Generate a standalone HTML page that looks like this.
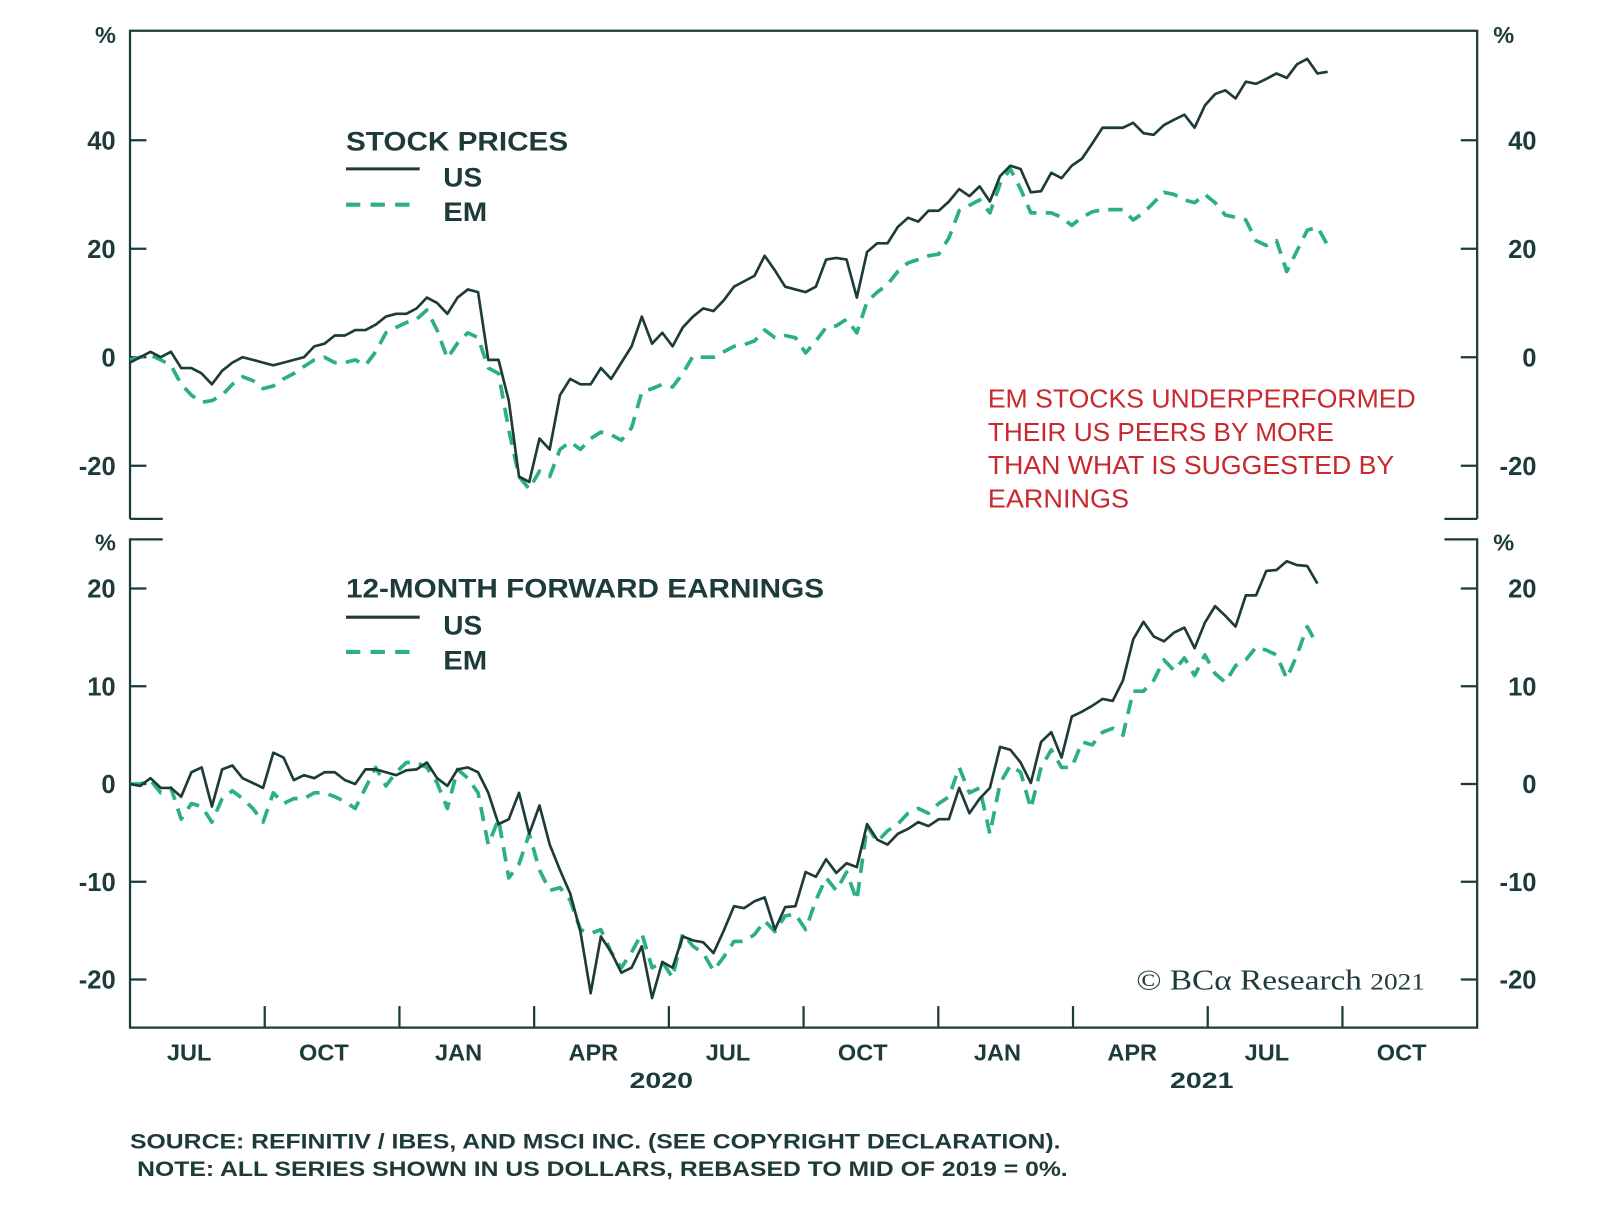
<!DOCTYPE html>
<html><head><meta charset="utf-8"><style>
html,body{margin:0;padding:0;background:#fff;}
svg{display:block;}
text{font-family:"Liberation Sans",Arial,sans-serif;font-weight:bold;fill:#1d3b3a;}
</style></head><body>
<svg id="chart" width="1600" height="1219" viewBox="0 0 1563 1191" preserveAspectRatio="none" xmlns="http://www.w3.org/2000/svg">
<g id="frame" stroke="#1d3b3a" stroke-width="2.2" fill="none">
<path d="M127 507 L127 30 L1443 30 L1443 507"/>
<path d="M127 507 L159 507 M1443 507 L1411 507"/>
<path d="M159 527 L127 527 L127 1004 L1443 1004 L1443 527 L1411 527"/>
</g>
<g id="axes"></g>
<g id="series"></g>
<text x="103" y="42" font-size="23" text-anchor="middle">%</text>
<text x="1469" y="42" font-size="23" text-anchor="middle">%</text>
<text x="103" y="538" font-size="23" text-anchor="middle">%</text>
<text x="1469" y="538" font-size="23" text-anchor="middle">%</text>
<g>
<text x="338" y="147" font-size="26" textLength="217" lengthAdjust="spacingAndGlyphs">STOCK PRICES</text>
<line x1="338" y1="165" x2="410" y2="165" stroke="#1d3b3a" stroke-width="3"/>
<text x="433" y="182" font-size="26" textLength="38" lengthAdjust="spacingAndGlyphs">US</text>
<line x1="338" y1="200" x2="410" y2="200" stroke="#2bb07f" stroke-width="4" stroke-dasharray="14 10"/>
<text x="433" y="216" font-size="26" textLength="43" lengthAdjust="spacingAndGlyphs">EM</text>
</g>
<g>
<text x="338" y="584" font-size="26" textLength="467" lengthAdjust="spacingAndGlyphs">12-MONTH FORWARD EARNINGS</text>
<line x1="338" y1="603" x2="410" y2="603" stroke="#1d3b3a" stroke-width="3"/>
<text x="433" y="620" font-size="26" textLength="38" lengthAdjust="spacingAndGlyphs">US</text>
<line x1="338" y1="637" x2="410" y2="637" stroke="#2bb07f" stroke-width="4" stroke-dasharray="14 10"/>
<text x="433" y="654" font-size="26" textLength="43" lengthAdjust="spacingAndGlyphs">EM</text>
</g>
<g font-size="25">
<text x="965" y="398" textLength="418" lengthAdjust="spacingAndGlyphs" style="fill:#c8282e;font-weight:normal">EM STOCKS UNDERPERFORMED</text>
<text x="965" y="431" textLength="338" lengthAdjust="spacingAndGlyphs" style="fill:#c8282e;font-weight:normal">THEIR US PEERS BY MORE</text>
<text x="965" y="463" textLength="397" lengthAdjust="spacingAndGlyphs" style="fill:#c8282e;font-weight:normal">THAN WHAT IS SUGGESTED BY</text>
<text x="965" y="496" textLength="138" lengthAdjust="spacingAndGlyphs" style="fill:#c8282e;font-weight:normal">EARNINGS</text>
</g>
<text x="1110" y="967" font-size="28" textLength="282" lengthAdjust="spacingAndGlyphs" style="font-family:'Liberation Serif',serif;font-weight:normal">© BCα Research <tspan font-size="23">2021</tspan></text>
<text x="615" y="1063" font-size="22" textLength="62" lengthAdjust="spacingAndGlyphs">2020</text>
<text x="1143" y="1063" font-size="22" textLength="62" lengthAdjust="spacingAndGlyphs">2021</text>
<text x="127" y="1122" font-size="21" textLength="909" lengthAdjust="spacingAndGlyphs">SOURCE: REFINITIV / IBES, AND MSCI INC. (SEE COPYRIGHT DECLARATION).</text>
<text x="134" y="1149" font-size="21" textLength="909" lengthAdjust="spacingAndGlyphs">NOTE: ALL SERIES SHOWN IN US DOLLARS, REBASED TO MID OF 2019 = 0%.</text>
</svg>
<script>
const topUS=[-1,0,1,0,1,-2,-2,-3,-5,-2.5,-1,0,-0.5,-1,-1.5,-1,-0.5,0,2,2.5,4,4,5,5,6,7.5,8,8,9,11,10,8,11,12.5,12,-0.5,-0.5,-8,
-22,-23,-15,-17,-7,-4,-5,-5,-2,-4,-1,2,7.5,2.5,4.5,2,5.5,7.5,9,8.5,10.5,13,14,15,18.7,16,13,12.5,12,13,18,18.3,18,11,19.4,21,21,24,25.7,25,27,27,28.7,31,29.7,31.5,28.7,33.4,35.3,34.7,30.4,30.6,34,33,35.3,36.6,39.4,42.3,42.3,42.3,43.2,41.3,41,42.8,43.8,44.7,42.3,46.4,48.5,49.2,47.7,50.8,50.4,51.3,52.3,51.5,54,55,52.3,52.6];
const topEM=[-0.5,0,0.4,-0.5,-1.5,-5,-7,-8.3,-8,-7,-5,-3.6,-4.3,-5.8,-5.3,-4,-3,-1.7,-0.5,0,-1,-1,-0.5,-1.5,1,4.5,5.5,6.4,7,8.7,5,-0.2,2.6,4.5,3.6,-2,-3,-13.4,
-22,-24.3,-21,-22,-17,-15.6,-17,-15,-13.8,-14.3,-15.3,-13,-6.4,-5.8,-5,-5.5,-3,0.2,0,0,1,2,2.3,3,5,3.6,4,3.6,0.8,3,5.5,5.8,7,4.5,10.2,12,13.4,15.8,17.4,18,18.7,19,22,27,28,29,26.6,32,34.7,31,26.6,26.6,26.6,25.8,24.3,25.8,26.8,27.2,27.2,27.2,25.3,26.6,28.5,30.4,30,29,28.5,30,28.5,26.2,25.8,25.3,21.5,20.6,21.5,15.8,19.6,23.4,24,20.6];
const botUS=[0,-0.2,0.6,-0.4,-0.4,-1.3,1.2,1.7,-2.3,1.5,1.9,0.6,0.1,-0.4,3.2,2.7,0.4,0.9,0.6,1.2,1.2,0.4,0,1.5,1.5,1.2,0.9,1.4,1.5,2.2,0.6,-0.2,1.5,1.7,1.2,-0.9,-4.1,-3.6,
-0.9,-5.1,-2.2,-6.2,-8.8,-11.2,-15.1,-21.4,-15.6,-17.2,-19.3,-18.8,-16.6,-21.9,-18.2,-18.8,-15.6,-16,-16.2,-17.3,-15,-12.5,-12.7,-12,-11.6,-14.9,-12.6,-12.5,-9,-9.5,-7.7,-9.1,-8.1,-8.5,-4.1,-5.7,-6.2,-5.1,-4.6,-3.9,-4.3,-3.6,-3.6,-0.4,-3,-1.5,-0.4,3.8,3.5,2.2,0.1,4.3,5.3,2.7,6.9,7.4,8,8.7,8.5,10.6,14.8,16.6,15.1,14.6,15.5,16,13.9,16.5,18.2,17.2,16.1,19.3,19.3,21.8,21.9,22.8,22.4,22.3,20.5];
const botEM=[0,0,0.4,-0.9,-0.4,-3.6,-2,-2.3,-3.9,-1.5,-0.7,-1.5,-2.5,-3.9,-0.9,-2,-1.5,-1.5,-0.9,-0.9,-1.3,-1.8,-2.5,-0.4,1.7,-0.2,1.2,2.2,2.2,1.7,0.1,-2.5,1.5,0.6,-0.9,-6.2,-3.6,-9.6,-8.2,
-5.1,-8.8,-10.9,-10.6,-11.9,-14.9,-15.3,-14.9,-17.2,-18.8,-17.2,-15.3,-18.8,-18.2,-19.8,-15.3,-16.6,-17.3,-19.1,-17.7,-16.1,-16.1,-15.4,-14,-15.1,-13.5,-13.3,-14.9,-11.9,-9.6,-10.9,-9,-11.9,-4.3,-5.9,-4.8,-4.1,-3,-2.5,-3,-2,-1.3,1.7,-0.9,-0.4,-5.1,0.1,1.9,1.2,-2.5,1.7,3.5,1.7,1.7,4.3,4,5.3,5.7,5,9.5,9.5,10.6,12.7,11.6,12.9,11.1,13.2,11.3,10.4,12.1,12.7,14,13.7,13.2,10.8,13.2,16.1,14.2];
const topTicks=[40,20,0,-20];
const botTicks=[20,10,0,-10,-20];
const quarterLabels=["JUL","OCT","JAN","APR","JUL","OCT","JAN","APR","JUL","OCT"];
const NS="http://www.w3.org/2000/svg";
const weeksPerQuarter=13.16;
function xS(w){return 127+w*10;}
function yTop(v){return 349-v*5.3;}
function yBot(v){return 766-v*9.55;}
const axes=document.getElementById('axes');
const series=document.getElementById('series');
function mk(tag,attrs,parent){const e=document.createElementNS(NS,tag);for(const k in attrs)e.setAttribute(k,attrs[k]);parent.appendChild(e);return e;}
function yTicks(ticks,ys,panel){
  ticks.forEach(t=>{
    const y=ys(t);
    const l=mk('path',{d:`M127 ${y} L143 ${y} M1443 ${y} L1427 ${y}`,stroke:'#1d3b3a','stroke-width':2.2,fill:'none'},axes);
    
    
    const a=mk('text',{x:113,y:y+9,'font-size':25,'text-anchor':'end'},axes);a.textContent=t;
    
    
    const b=mk('text',{x:1501,y:y+9,'font-size':25,'text-anchor':'end'},axes);b.textContent=t;
    
    
  });
}
yTicks(topTicks,yTop,'top');
yTicks(botTicks,yBot,'bottom');
for(let q=1;q<quarterLabels.length;q++){
  const x=xS(q*weeksPerQuarter);
  const t=mk('line',{x1:x,y1:1004,x2:x,y2:983,stroke:'#1d3b3a','stroke-width':2.2},axes);
  
  
}
quarterLabels.forEach((lab,q)=>{
  const t=mk('text',{x:xS((q+0.5)*weeksPerQuarter)-8,y:1036,'font-size':23,'text-anchor':'middle'},axes);
  t.textContent=lab;
  
  
});
function line(vals,ys,color,dash,width,name){
  const d=vals.map((v,i)=>(i?'L':'M')+xS(i).toFixed(1)+' '+ys(v).toFixed(1)).join(' ');
  const p=mk('path',{d:d,stroke:color,'stroke-width':width,fill:'none','stroke-linejoin':'round'},series);
  if(dash)p.setAttribute('stroke-dasharray',dash);
  
  
}
line(topEM,yTop,'#2bb07f','14 9',3.6,'top-em-line');
line(topUS,yTop,'#1d3b3a',null,2.6,'top-us-line');
line(botEM,yBot,'#2bb07f','14 9',3.6,'bottom-em-line');
line(botUS,yBot,'#1d3b3a',null,2.6,'bottom-us-line');
</script>
</body></html>
